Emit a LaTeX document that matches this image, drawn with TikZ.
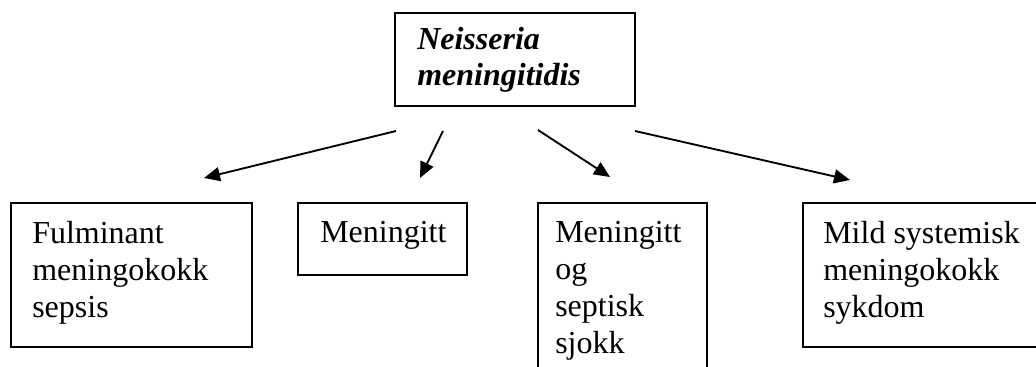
\documentclass[tikz,border=0pt]{standalone}
\usepackage{fontspec}
\setmainfont{Liberation Serif}
\usetikzlibrary{arrows.meta,fit}
\begin{document}
\begin{tikzpicture}[x=0.75pt,y=-0.75pt,
  boxshape/.style={draw, line width=1.1pt, rectangle, inner sep=0pt, outer sep=0pt},
  lbl/.style={anchor=base west, inner sep=0pt, align=left, font=\fontsize{24}{27.6}\selectfont},
  arr/.style={line width=1.4pt, -{Triangle[length=12pt,width=10.5pt]}}]
\useasboundingbox (0,0) rectangle (1036,367);
% boxes
\node[boxshape, fit={(395,13) (635,106)}] (top) {};
\node[boxshape, fit={(11,203) (252,347)}] (b1) {};
\node[boxshape, fit={(298,203) (467,275)}] (b2) {};
\node[boxshape, fit={(538,203) (707,385)}] (b3) {};
\node[boxshape, fit={(803,203) (1045,347)}] (b4) {};
% labels (anchored at baseline of last line)
\node[lbl] (ttop) at (417,86) {\textbf{\textit{Neisseria}}\\\textbf{\textit{meningitidis}}};
\node[lbl] (t1) at (32,317) {Fulminant\\meningokokk\\sepsis};
\node[lbl] (t2) at (320,243) {Meningitt};
\node[lbl] (t3) at (555,353) {Meningitt\\og\\septisk\\sjokk};
\node[lbl] (t4) at (823,317) {Mild systemisk\\meningokokk\\sykdom};
% arrow ends
\coordinate (s1) at (396,131); \coordinate (e1) at (204,178);
\coordinate (s2) at (443,131); \coordinate (e2) at (420,178);
\coordinate (s3) at (538,130); \coordinate (e3) at (610,177);
\coordinate (s4) at (635,131); \coordinate (e4) at (850,180);
\draw[arr] (s1) -- (e1);
\draw[arr] (s2) -- (e2);
\draw[arr] (s3) -- (e3);
\draw[arr] (s4) -- (e4);
\end{tikzpicture}
\end{document}
